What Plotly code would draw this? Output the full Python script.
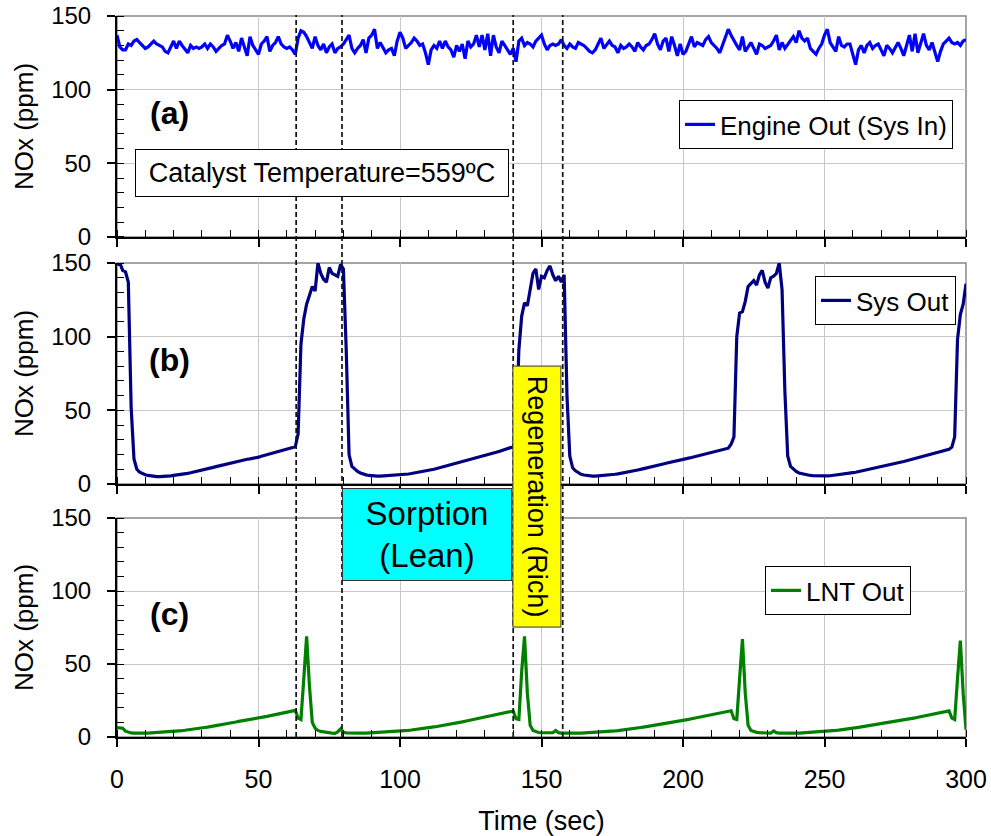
import plotly.graph_objects as go

# ---------------- data ----------------
time_s = list(range(0, 301))

engine_out = [
    137, 129, 127, 127, 131, 130, 133, 134, 132, 130, 128, 129, 131, 133, 131, 130, 129, 126, 125, 129,
    133, 128, 133, 130, 127, 125, 130, 128, 129, 128, 129, 131, 128, 131, 129, 126, 128, 130, 131, 137,
    133, 128, 132, 126, 135, 128, 123, 136, 130, 127, 124, 131, 133, 136, 126, 130, 132, 136, 131, 129,
    128, 129, 127, 124, 135, 140, 139, 136, 132, 128, 136, 130, 127, 131, 125, 129, 131, 125, 128, 129,
    131, 134, 137, 128, 125, 128, 130, 134, 125, 135, 137, 141, 128, 132, 129, 125, 127, 128, 123, 133,
    139, 135, 128, 130, 132, 135, 133, 130, 131, 125, 117, 127, 130, 128, 133, 128, 133, 129, 127, 122,
    130, 126, 131, 121, 133, 129, 131, 137, 129, 137, 127, 138, 123, 137, 129, 125, 133, 130, 127, 124,
    128, 119, 133, 135, 130, 132, 131, 129, 133, 135, 137, 131, 127, 130, 131, 130, 131, 134, 130, 128,
    131, 129, 128, 132, 131, 130, 128, 126, 125, 127, 131, 135, 128, 131, 133, 130, 129, 125, 130, 128,
    129, 131, 129, 126, 132, 129, 127, 130, 131, 134, 138, 131, 127, 133, 135, 126, 136, 130, 123, 131,
    124, 126, 131, 136, 129, 132, 131, 130, 134, 136, 132, 130, 128, 125, 130, 136, 141, 137, 133, 130,
    127, 136, 126, 129, 132, 128, 124, 131, 130, 128, 129, 130, 133, 137, 127, 132, 128, 131, 134, 136,
    132, 140, 135, 133, 135, 128, 126, 124, 128, 131, 137, 141, 132, 129, 126, 136, 130, 129, 131, 131,
    124, 117, 127, 130, 125, 130, 132, 128, 130, 131, 127, 123, 130, 128, 125, 129, 132, 128, 123, 130,
    137, 126, 138, 125, 131, 138, 130, 127, 132, 126, 119, 126, 131, 133, 135, 132, 131, 132, 130, 133,
    134,
]

sys_out = [
    149, 150, 145, 144, 137, 52, 17, 10, 8, 7, 6.3, 5.8, 5.4, 5.2, 5.0, 5.0, 5.0, 5.1, 5.3, 5.5,
    5.8, 6.0, 6.3, 6.6, 6.9, 7.2, 7.6, 8.0, 8.4, 8.9, 9.3, 9.8, 10.3, 10.8, 11.3, 11.8, 12.3, 12.8, 13.3, 13.8,
    14.3, 14.8, 15.3, 15.7, 16.1, 16.5, 16.8, 17.1, 17.3, 17.6, 18.2, 18.8, 19.3, 19.8, 20.3, 20.8, 21.3, 21.9, 22.5, 23.0,
    23.5, 24.0, 24.7, 25.3, 34, 95, 112, 122, 128, 134, 131, 150, 143, 139, 137, 147, 143, 142, 141, 149,
    146, 91, 20, 12, 10, 8.5, 7.5, 6.7, 6.2, 5.8, 5.5, 5.4, 5.3, 5.3, 5.4, 5.5, 5.6, 5.7, 5.8, 6.0,
    6.2, 6.4, 6.6, 6.8, 7.1, 7.4, 7.7, 8.0, 8.4, 8.8, 9.2, 9.6, 10.0, 10.5, 11.0, 11.5, 12.0, 12.5, 13.0, 13.5,
    14.0, 14.5, 15.0, 15.5, 16.0, 16.5, 17.0, 17.5, 18.0, 18.5, 19.1, 19.7, 20.3, 20.9, 21.5, 22.1, 22.7, 23.3, 23.9, 24.5,
    25.3, 33, 91, 114, 123, 121, 131, 143, 146, 132, 141, 140, 145, 148, 142, 138, 141, 137, 142, 60,
    19, 11, 9, 7.5, 6.6, 6.1, 5.7, 5.5, 5.4, 5.4, 5.5, 5.6, 5.7, 5.9, 6.1, 6.3, 6.6, 6.9, 7.2, 7.5,
    7.9, 8.3, 8.7, 9.1, 9.5, 9.9, 10.3, 10.7, 11.1, 11.6, 12.1, 12.6, 13.1, 13.6, 14.1, 14.6, 15.1, 15.6, 16.0, 16.4,
    16.8, 17.2, 17.6, 18.0, 18.5, 19.0, 19.5, 20.0, 20.5, 21.0, 21.5, 22.0, 22.6, 23.2, 23.7, 24.0, 24.3, 27, 32, 100,
    116, 117, 124, 134, 136, 138, 135, 142, 145, 137, 133, 140, 141, 143, 150, 132, 63, 19, 12, 10,
    8.5, 7.5, 7.0, 6.5, 6.1, 5.8, 5.6, 5.5, 5.4, 5.4, 5.4, 5.5, 5.6, 5.8, 6.0, 6.2, 6.5, 6.8, 7.1, 7.4,
    7.7, 8.0, 8.4, 8.8, 9.2, 9.6, 10.0, 10.4, 10.8, 11.2, 11.6, 12.0, 12.4, 12.8, 13.3, 13.8, 14.3, 14.8, 15.3, 15.8,
    16.3, 16.8, 17.3, 17.8, 18.3, 18.8, 19.3, 19.7, 20.2, 20.7, 21.2, 21.7, 22.3, 22.9, 23.5, 25, 32, 98, 115, 122,
    136,
]

lnt_out = [
    6.5, 6.5, 6.0, 4.0, 3.2, 2.8, 2.7, 2.6, 2.5, 2.5, 2.6, 2.7, 2.8, 2.9, 3.0, 3.1, 3.2, 3.3, 3.4, 3.6,
    3.8, 4.0, 4.2, 4.4, 4.6, 4.8, 5.0, 5.3, 5.6, 5.9, 6.2, 6.5, 6.8, 7.1, 7.4, 7.7, 8.0, 8.3, 8.7, 9.1,
    9.5, 9.9, 10.3, 10.7, 11.1, 11.5, 11.9, 12.3, 12.6, 12.9, 13.2, 13.5, 13.8, 14.1, 14.5, 14.9, 15.3, 15.7, 16.1, 16.5,
    16.9, 17.3, 17.7, 18.2, 13, 12, 40, 69, 35, 10, 6, 4.5, 3.8, 3.4, 3.1, 2.9, 2.7, 2.5, 3.5, 5.5,
    3.2, 2.8, 2.7, 2.6, 2.6, 2.6, 2.6, 2.7, 2.7, 2.8, 2.8, 2.9, 3.0, 3.1, 3.2, 3.3, 3.4, 3.5, 3.6, 3.8,
    4.0, 4.2, 4.4, 4.6, 4.8, 5.0, 5.2, 5.4, 5.7, 6.0, 6.3, 6.6, 6.9, 7.2, 7.5, 7.8, 8.1, 8.4, 8.8, 9.2,
    9.6, 10.0, 10.4, 10.8, 11.2, 11.6, 12.0, 12.4, 12.8, 13.2, 13.6, 14.0, 14.4, 14.8, 15.2, 15.6, 16.0, 16.4, 16.8, 17.3,
    17.8, 12.5, 12, 45, 69, 30, 8, 4.5, 3.5, 3.1, 2.9, 2.8, 2.7, 2.7, 2.9, 4.5, 3.0, 2.7, 2.6, 2.6,
    2.5, 2.5, 2.5, 2.6, 2.6, 2.7, 2.8, 2.9, 3.0, 3.1, 3.2, 3.3, 3.4, 3.6, 3.8, 4.0, 4.2, 4.4, 4.6, 4.8,
    5.0, 5.3, 5.6, 5.9, 6.2, 6.5, 6.8, 7.1, 7.4, 7.7, 8.0, 8.3, 8.6, 8.9, 9.2, 9.5, 9.8, 10.1, 10.5, 10.9,
    11.3, 11.7, 12.1, 12.5, 12.9, 13.3, 13.7, 14.1, 14.5, 14.9, 15.3, 15.7, 16.1, 16.5, 16.9, 17.3, 17.7, 18.0, 12.5, 12,
    40, 67, 30, 8, 4.5, 3.6, 3.2, 3.0, 2.8, 2.7, 2.6, 2.6, 4.2, 3.0, 2.7, 2.6, 2.5, 2.5, 2.5, 2.6,
    2.6, 2.7, 2.8, 2.9, 3.0, 3.1, 3.2, 3.3, 3.4, 3.5, 3.7, 3.9, 4.1, 4.3, 4.5, 4.7, 4.9, 5.1, 5.4, 5.7,
    6.0, 6.3, 6.6, 6.9, 7.2, 7.5, 7.8, 8.1, 8.4, 8.7, 9.0, 9.3, 9.6, 9.9, 10.2, 10.5, 10.8, 11.1, 11.5, 11.9,
    12.3, 12.7, 13.1, 13.5, 13.9, 14.3, 14.7, 15.1, 15.5, 15.9, 16.3, 16.7, 17.1, 17.5, 17.9, 13, 12, 40, 66, 30,
    5,
]

phase_times = [63.3, 79.5, 140.0, 157.5]   # dashed markers (sec)

series_names = ["Engine Out (Sys In)", "Sys Out", "LNT Out"]
series_colors = ["#0000FF", "#000080", "#008000"]
panel_labels = ["(a)", "(b)", "(c)"]
x_ticks = [0, 50, 100, 150, 200, 250, 300]
y_ticks = [0, 50, 100, 150]

FONT = "Liberation Sans, Arial, sans-serif"

# ---------------- figure ----------------
fig = go.Figure()
series = [engine_out, sys_out, lnt_out]
for i, (name, vals, col) in enumerate(zip(series_names, series, series_colors)):
    fig.add_trace(go.Scatter(
        x=time_s, y=vals, mode="lines", name=name,
        line=dict(color=col, width=3.2),
        xaxis="x" if i == 0 else f"x{i+1}",
        yaxis="y" if i == 0 else f"y{i+1}",
        legend="legend" if i == 0 else f"legend{i+1}",
        showlegend=True,
    ))

domains = [[0.6935, 1.0], [0.3509, 0.6574], [0.0, 0.3037]]

layout = dict(
    width=991, height=836,
    margin=dict(l=117, r=25, t=16, b=99, autoexpand=False),
    paper_bgcolor="white", plot_bgcolor="white",
    font=dict(family=FONT, size=26, color="black"),
    showlegend=True,
)

for i in range(3):
    xs = "" if i == 0 else str(i + 1)
    layout[f"xaxis{xs}"] = dict(
        domain=[0, 1], anchor=f"y{xs}", range=[0, 300],
        tickmode="array", tickvals=x_ticks,
        showticklabels=(i == 2), automargin=False,
        ticks="outside", ticklen=8, tickwidth=1.5, tickcolor="black",
        showline=True, linecolor="black", linewidth=2,
        showgrid=True, gridcolor="#c8c8c8", gridwidth=1,
        zeroline=False,
        minor=dict(dtick=10, tick0=0, ticks="inside", ticklen=7, tickwidth=1, tickcolor="black", showgrid=False),
        tickfont=dict(size=25),
        ticklabelstandoff=11,
    )
    layout[f"yaxis{xs}"] = dict(
        domain=domains[i], anchor=f"x{xs}", range=[0, 150],
        tickmode="array", tickvals=y_ticks, automargin=False,
        ticks="outside", ticklen=8, tickwidth=1.5, tickcolor="black",
        showline=True, linecolor="black", linewidth=2,
        showgrid=True, gridcolor="#c8c8c8", gridwidth=1,
        zeroline=False,
        minor=dict(dtick=10, tick0=0, ticks="inside", ticklen=7, tickwidth=1, tickcolor="black", showgrid=False),
        tickfont=dict(size=24),
        ticklabelstandoff=11,
        title=dict(text="NOx (ppm)", font=dict(size=26), standoff=10),
    )

layout["xaxis3"]["title"] = dict(text="Time (sec)", font=dict(size=27), standoff=20)

legend_pos = [(0.9847, 0.8835), (0.9882, 0.6394), (0.9352, 0.2372)]
for i, (lx, ly) in enumerate(legend_pos):
    key = "legend" if i == 0 else f"legend{i+1}"
    layout[key] = dict(
        x=lx, y=ly, xanchor="right", yanchor="top",
        bgcolor="white", bordercolor="black", borderwidth=1,
        font=dict(size=26, family=FONT),
    )

shapes = []
# plot-area borders (grey top/right)
for i in range(3):
    xs = "" if i == 0 else str(i + 1)
    shapes.append(dict(type="rect", xref=f"x{xs} domain", yref=f"y{xs} domain",
                       x0=0, x1=1, y0=0, y1=1, line=dict(color="#888888", width=1.5),
                       layer="below"))
# dashed phase markers
for t in phase_times:
    shapes.append(dict(type="line", xref="x3", yref="paper", x0=t, x1=t, y0=0, y1=1.0015,
                       line=dict(color="#111111", width=1.7, dash="5px,3px"), layer="above"))
layout["shapes"] = shapes

annotations = []
for i, lab in enumerate(panel_labels):
    xs = "" if i == 0 else str(i + 1)
    annotations.append(dict(text=f"<b>{lab}</b>", x=18.5, y=84, xref=f"x{xs}", yref=f"y{xs}",
                            xanchor="center", yanchor="middle",
                            showarrow=False, font=dict(size=32, family=FONT)))
annotations.append(dict(text="Catalyst Temperature=559ºC", x=72.4, y=43.4, xref="x", yref="y",
                        xanchor="center", yanchor="middle",
                        showarrow=False, font=dict(size=27, family=FONT),
                        bgcolor="white", bordercolor="black", borderwidth=1, borderpad=1,
                        width=370, height=44))
annotations.append(dict(text="Sorption<br>(Lean)", x=109.5, y=0.2809, xref="x3", yref="paper",
                        xanchor="center", yanchor="middle",
                        showarrow=False, font=dict(size=33, family=FONT),
                        bgcolor="#00FFFF", bordercolor="#333333", borderwidth=1, borderpad=1,
                        width=166, height=89))
annotations.append(dict(text="Regeneration (Rich)", x=148.2, y=0.3329, xref="x3", yref="paper",
                        xanchor="center", yanchor="middle",
                        showarrow=False, font=dict(size=27, family=FONT), textangle=90,
                        bgcolor="#FFFF00", bordercolor="#333333", borderwidth=1, borderpad=1,
                        width=258, height=45))
layout["annotations"] = annotations

fig.update_layout(**layout)
fig.write_html("out.html")
